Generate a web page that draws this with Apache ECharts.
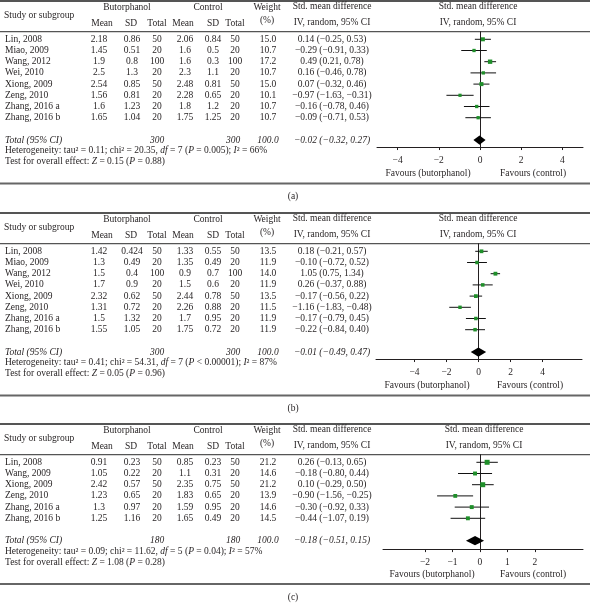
<!DOCTYPE html>
<html><head><meta charset="utf-8">
<script src="https://cdn.jsdelivr.net/npm/echarts@6/dist/echarts.min.js"></script>
<style>html,body{margin:0;padding:0;background:#fff}#c{width:590px;height:606px}</style>
</head><body><div id="c"></div>
<script>
// ---------- DATA ----------
const studiesA = ['Lin, 2008','Miao, 2009','Wang, 2012','Wei, 2010','Xiong, 2009','Zeng, 2010','Zhang, 2016 a','Zhang, 2016 b'];
const bMeanA = [2.18,1.45,1.9,2.5,2.54,1.56,1.6,1.65];
const bSdA   = [0.86,0.51,0.8,1.3,0.85,0.81,1.23,1.04];
const bNA    = [50,20,100,20,50,20,20,20];
const cMeanA = [2.06,1.6,1.6,2.3,2.48,2.28,1.8,1.75];
const cSdA   = [0.84,0.5,0.3,1.1,0.81,0.65,1.2,1.25];
const cNA    = [50,20,100,20,50,20,20,20];
const weightA= [15.0,10.7,17.2,10.7,15.0,10.1,10.7,10.7];
const smdA   = [0.14,-0.29,0.49,0.16,0.07,-0.97,-0.16,-0.09];
const loA    = [-0.25,-0.91,0.21,-0.46,-0.32,-1.63,-0.78,-0.71];
const hiA    = [0.53,0.33,0.78,0.78,0.46,-0.31,0.46,0.53];
const totalA = [-0.02,-0.32,0.27];
const totalNA = [300,300];
const heteroA = ['0.11','20.35','7','= 0.005','66%'];
const testA = ['0.15','0.88'];

const studiesB = ['Lin, 2008','Miao, 2009','Wang, 2012','Wei, 2010','Xiong, 2009','Zeng, 2010','Zhang, 2016 a','Zhang, 2016 b'];
const bMeanB = [1.42,1.3,1.5,1.7,2.32,1.31,1.5,1.55];
const bSdB   = [0.424,0.49,0.4,0.9,0.62,0.72,1.32,1.05];
const bNB    = [50,20,100,20,50,20,20,20];
const cMeanB = [1.33,1.35,0.9,1.5,2.44,2.26,1.7,1.75];
const cSdB   = [0.55,0.49,0.7,0.6,0.78,0.88,0.95,0.72];
const cNB    = [50,20,100,20,50,20,20,20];
const weightB= [13.5,11.9,14.0,11.9,13.5,11.5,11.9,11.9];
const smdB   = [0.18,-0.10,1.05,0.26,-0.17,-1.16,-0.17,-0.22];
const loB    = [-0.21,-0.72,0.75,-0.37,-0.56,-1.83,-0.79,-0.84];
const hiB    = [0.57,0.52,1.34,0.88,0.22,-0.48,0.45,0.40];
const totalB = [-0.01,-0.49,0.47];
const totalNB = [300,300];
const heteroB = ['0.41','54.31','7','< 0.00001','87%'];
const testB = ['0.05','0.96'];

const studiesC = ['Lin, 2008','Wang, 2009','Xiong, 2009','Zeng, 2010','Zhang, 2016 a','Zhang, 2016 b'];
const bMeanC = [0.91,1.05,2.42,1.23,1.3,1.25];
const bSdC   = [0.23,0.22,0.57,0.65,0.97,1.16];
const bNC    = [50,20,50,20,20,20];
const cMeanC = [0.85,1.1,2.35,1.83,1.59,1.65];
const cSdC   = [0.23,0.31,0.75,0.65,0.95,0.49];
const cNC    = [50,20,50,20,20,20];
const weightC= [21.2,14.6,21.2,13.9,14.6,14.5];
const smdC   = [0.26,-0.18,0.10,-0.90,-0.30,-0.44];
const loC    = [-0.13,-0.80,-0.29,-1.56,-0.92,-1.07];
const hiC    = [0.65,0.44,0.50,-0.25,0.33,0.19];
const totalC = [-0.18,-0.51,0.15];
const totalNC = [180,180];
const heteroC = ['0.09','11.62','5','= 0.04','57%'];
const testC = ['1.08','0.28'];

const ticksAB = [-4,-2,0,2,4];
const ticksC = [-2,-1,0,1,2];
const panelLabels = ['(a)','(b)','(c)'];

// ---------- LAYOUT / STYLE ----------
const FONT = '"Liberation Serif","DejaVu Serif",serif';
const FS = 9.5;
const INK = '#231f20';
const GREEN = '#1f8f2a';
const ROW = 11.2;
const panels = [
  {P:0,   st:studiesA,bm:bMeanA,bs:bSdA,bn:bNA,cm:cMeanA,cs:cSdA,cn:cNA,w:weightA,e:smdA,lo:loA,hi:hiA,tot:totalA,totN:totalNA,het:heteroA,test:testA,
   left:377,right:583,min:-5,max:5,ticks:ticksAB,hdrX:478,fav:[428,533],axisPad:0.62},
  {P:212, st:studiesB,bm:bMeanB,bs:bSdB,bn:bNB,cm:cMeanB,cs:cSdB,cn:cNB,w:weightB,e:smdB,lo:loB,hi:hiB,tot:totalB,totN:totalNB,het:heteroB,test:testB,
   left:376,right:582,min:-6.4,max:6.45,ticks:ticksAB,hdrX:478,fav:[427,530],axisPad:0.62},
  {P:423, st:studiesC,bm:bMeanC,bs:bSdC,bn:bNC,cm:cMeanC,cs:cSdC,cn:cNC,w:weightC,e:smdC,lo:loC,hi:hiC,tot:totalC,totN:totalNC,het:heteroC,test:testC,
   left:383,right:583,min:-3.53,max:3.75,ticks:ticksC,hdrX:484,fav:[432,533],axisPad:0.75}
];
const col = {name:5,bMean:99,bSD:132,bN:157,cMean:185,cSD:213,cN:235,w:268,smd:332};

function fmt(n){ return (n<0?'\u2212':'')+Math.abs(n).toFixed(2); }
function ci(e,l,h){ return fmt(e)+' ('+fmt(l)+', '+fmt(h)+')'; }

const graphic = [];
function T(x,y,s,align,italic,rich){
  const st = {text:s, textAlign:align||'center', textVerticalAlign:'middle',
    fontFamily:FONT, fontSize:FS, fontStyle:italic?'italic':'normal', fill:INK};
  if (rich) st.rich = rich;
  graphic.push({type:'text', x:x, y:y, silent:true, style:st});
}
function L(x1,y1,x2,y2,w,c){
  graphic.push({type:'line', silent:true, shape:{x1:x1,y1:y1,x2:x2,y2:y2}, style:{stroke:c||'#555',lineWidth:w||1}});
}
const richI = {i:{fontFamily:FONT,fontSize:FS,fontStyle:'italic',fill:INK}};

const grids=[], xAxes=[], yAxes=[], series=[];
panels.forEach((p,k)=>{
  const P=p.P, n=p.st.length;
  const row0 = P+39.3;
  const y = i => row0 + i*ROW;
  const totIdx = n+1;
  const yTot = y(totIdx), yHet = yTot+10.3, yTest = yTot+21.3, yBot = yTest+22;
  // rules
  L(0,P+1,590,P+1,2,'#555');
  L(0,P+31.7,590,P+31.7,1.2,'#555');
  L(0,yBot,590,yBot,2,'#666');
  T(293,yBot+13,panelLabels[k],'center');
  // headers
  T(4,P+15,'Study or subgroup','left');
  T(127,P+7.3,'Butorphanol'); T(208,P+7.3,'Control');
  T(267,P+7.3,'Weight'); T(267,P+20.7,'(%)');
  T(102,P+23.3,'Mean'); T(131,P+23.3,'SD'); T(157,P+23.3,'Total');
  T(183,P+23.3,'Mean'); T(213,P+23.3,'SD'); T(235,P+23.3,'Total');
  T(col.smd,P+6.7,'Std. mean difference'); T(col.smd,P+22.7,'IV, random, 95% CI');
  T(p.hdrX,P+6.7,'Std. mean difference'); T(p.hdrX,P+22.7,'IV, random, 95% CI');
  // rows
  p.st.forEach((s,i)=>{
    const yy=y(i);
    T(col.name,yy,s,'left');
    T(col.bMean,yy,String(p.bm[i])); T(col.bSD,yy,String(p.bs[i])); T(col.bN,yy,String(p.bn[i]));
    T(col.cMean,yy,String(p.cm[i])); T(col.cSD,yy,String(p.cs[i])); T(col.cN,yy,String(p.cn[i]));
    T(col.w,yy,p.w[i].toFixed(1));
    T(col.smd,yy,ci(p.e[i],p.lo[i],p.hi[i]));
  });
  T(col.name,yTot,'Total (95% CI)','left',true);
  T(col.bN,yTot,String(p.totN[0]),'center',true);
  T(col.cN-2,yTot,String(p.totN[1]),'center',true);
  T(col.w,yTot,'100.0','center',true);
  T(col.smd,yTot,ci(p.tot[0],p.tot[1],p.tot[2]),'center',true);
  const h=p.het;
  T(col.name,yHet,'Heterogeneity: tau\u00b2 = '+h[0]+'; chi\u00b2 = '+h[1]+', {i|df} = '+h[2]+' ({i|P} '+h[3]+'); {i|I}\u00b2 = '+h[4],'left',false,richI);
  T(col.name,yTest,'Test for overall effect: {i|Z} = '+p.test[0]+' ({i|P} = '+p.test[1]+')','left',false,richI);

  // forest plot grid
  const top = P+31.7;
  const yMax = totIdx + p.axisPad;
  const yMin = -(39.3-31.7)/ROW;
  const height = (yMax-yMin)*ROW;
  grids.push({left:p.left, width:p.right-p.left, top:top, height:height, containLabel:false});
  xAxes.push({type:'value', gridIndex:k, min:p.min, max:p.max,
    axisLine:{show:true,onZero:false,lineStyle:{color:INK,width:1}},
    axisTick:{show:true,customValues:p.ticks,length:3,lineStyle:{color:INK}},
    axisLabel:{show:true,customValues:p.ticks,margin:8,color:INK,fontFamily:FONT,fontSize:FS,
      formatter:v=>(v<0?'\u2212':'')+Math.abs(v)},
    splitLine:{show:false}});
  yAxes.push({type:'value', gridIndex:k, inverse:true, min:yMin, max:yMax,
    axisLine:{show:true,onZero:true,lineStyle:{color:INK,width:1}},
    axisTick:{show:false}, axisLabel:{show:false}, splitLine:{show:false}});
  T(p.fav[0],yBot-10,'Favours (butorphanol)'); T(p.fav[1],yBot-10,'Favours (control)');

  series.push({type:'custom', xAxisIndex:k, yAxisIndex:k, silent:true, clip:false,
    data:p.st.map((s,i)=>[p.lo[i],p.hi[i],i]), encode:{x:[0,1],y:2},
    renderItem:(params,api)=>{
      const a=api.coord([api.value(0),api.value(2)]), b=api.coord([api.value(1),api.value(2)]);
      return {type:'line',shape:{x1:a[0],y1:a[1],x2:b[0],y2:b[1]},style:{stroke:'#111',lineWidth:1}};
    }});
  series.push({type:'scatter', xAxisIndex:k, yAxisIndex:k, silent:true, symbol:'rect',
    data:p.st.map((s,i)=>[p.e[i],i,p.w[i]]),
    symbolSize:v=>1.6+v[2]*0.16, itemStyle:{color:GREEN,opacity:1}});
  series.push({type:'custom', xAxisIndex:k, yAxisIndex:k, silent:true, clip:false,
    data:[[p.tot[1],p.tot[0],p.tot[2],totIdx]], encode:{x:[0,1,2],y:3},
    renderItem:(params,api)=>{
      const yv=api.value(3);
      const l=api.coord([api.value(0),yv]), m=api.coord([api.value(1),yv]), r=api.coord([api.value(2),yv]);
      const hh=4.6;
      return {type:'polygon',shape:{points:[[l[0],l[1]],[m[0],m[1]-hh],[r[0],r[1]],[m[0],m[1]+hh]]},style:{fill:'#000'}};
    }});
});

const chart = echarts.init(document.getElementById('c'), null, {renderer:'canvas'});
chart.setOption({animation:false, backgroundColor:'#fff', grid:grids, xAxis:xAxes, yAxis:yAxes, series:series, graphic:graphic});
</script></body></html>
